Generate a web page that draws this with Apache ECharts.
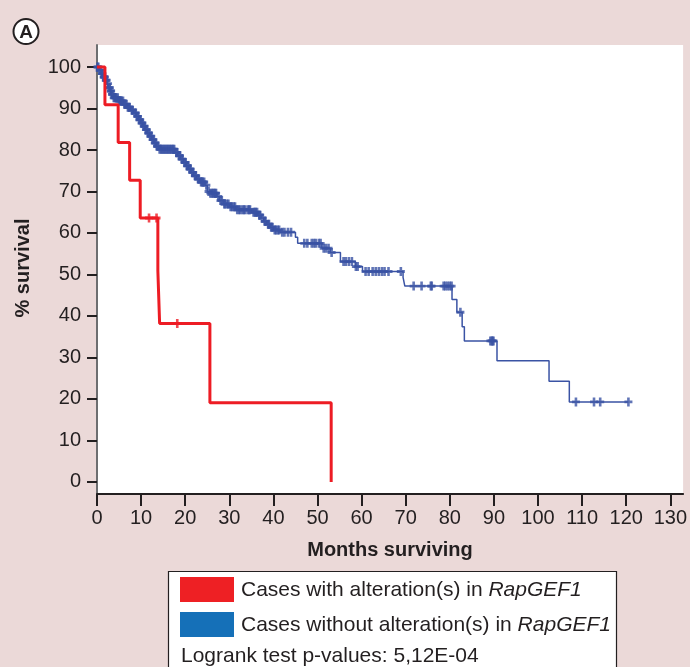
<!DOCTYPE html>
<html>
<head>
<meta charset="utf-8">
<script src="https://cdn.jsdelivr.net/npm/echarts@6/dist/echarts.min.js"></script>
<style>
html,body{margin:0;padding:0;background:#ebd9d8;}
#chart{width:690px;height:667px;}
</style>
</head>
<body>
<div id="chart"></div>
<script>
// ---- Data ----
const xTicks = [0,10,20,30,40,50,60,70,80,90,100,110,120,130];
const yTicks = [0,10,20,30,40,50,60,70,80,90,100];

// Cases with alteration(s): Kaplan-Meier steps (time in months, % survival after event)
const redTimes = [0,1.8,4.8,7.4,9.8,13.8,14.2,25.6,53.1];
const redSurv  = [100,90.9,81.8,72.7,63.6,50.9,38.2,19.1,0];
const redCensorTimes = [11.8,13.5,18.2];

// Cases without alteration(s)
const blueTimes = [0,0.5,1.0,1.4,1.9,2.3,2.7,3.0,3.3,3.6,4.8,6.0,6.9,7.6,8.3,8.9,9.4,9.9,10.4,10.9,11.4,11.9,12.4,12.9,13.4,14.0,17.6,18.3,18.9,19.6,20.2,20.7,21.3,21.9,22.6,23.3,24.5,25.0,25.5,27.2,27.7,28.6,30.0,31.5,35.0,36.5,37.2,37.8,38.5,39.2,40.0,41.5,45.0,45.5,51.0,52.9,55.2,58.6,60.2,69.4,69.8,80.5,81.6,82.8,83.3,90.7,102.5,107.1,120.5];
const blueSurv  = [100,99.2,98.4,97.6,96.8,96.0,95.0,94.2,93.4,92.6,91.8,91.0,90.3,89.6,88.9,88.1,87.3,86.5,85.7,84.9,84.1,83.3,82.5,81.7,80.9,80.2,79.4,78.6,77.8,77.0,76.2,75.4,74.6,73.8,73.0,72.3,71.5,70.0,69.6,68.8,67.8,67.0,66.3,65.6,65.0,64.3,63.6,62.8,62.1,61.4,60.7,60.2,59.0,57.5,56.3,55.3,53.1,51.9,50.7,49.3,47.2,44.0,40.9,37.4,34.0,29.2,24.3,19.3,19.3];
const blueCensorTimes = [0.1,0.3,0.6,0.8,1.1,1.2,1.5,1.6,1.8,2.0,2.2,2.5,2.8,2.9,3.1,3.2,3.4,3.5,3.8,4.0,4.2,4.4,4.7,5.0,5.2,5.4,5.6,5.9,6.2,6.4,6.7,7.0,7.2,7.4,7.9,8.1,8.6,8.8,9.1,9.3,9.6,9.8,10.1,10.3,10.6,10.8,11.1,11.3,11.6,11.8,12.1,12.3,12.6,12.8,13.1,13.3,13.6,13.8,14.2,14.5,14.8,15.0,15.3,15.5,15.8,16.0,16.3,16.5,16.8,17.0,17.3,17.5,18.0,18.2,18.6,18.8,19.2,19.4,19.9,20.1,20.4,20.6,21.0,21.2,21.6,21.8,22.2,22.4,22.9,23.1,23.6,23.8,24.0,24.3,24.8,25.3,25.7,26.0,26.3,26.5,26.8,27.0,27.5,28.0,28.3,28.9,29.0,29.5,29.8,30.3,30.6,31.0,31.3,31.8,32.2,32.5,33.0,33.3,33.6,34.2,34.5,34.7,35.5,35.8,36.0,36.3,36.8,37.0,37.5,38.0,38.2,38.8,39.0,39.5,39.8,40.3,40.6,41.0,41.3,42.0,42.5,43.3,44.0,
  47.0,47.7,48.7,49.2,49.6,50.3,50.7,51.4,51.9,52.5,53.2,55.9,56.4,57.1,57.8,58.7,59.1,
  60.9,61.6,62.5,63.2,63.9,64.6,65.2,66.1,68.9,71.8,73.6,75.7,75.9,78.6,79.0,79.5,80.0,80.4,
  82.4,89.2,89.5,89.7,89.9,108.6,112.7,114.1,120.5];

const legendLines = ['Cases with alteration(s) in ', 'Cases without alteration(s) in '];
const geneName = 'RapGEF1';
const pValueText = 'Logrank test p-values: 5,12E-04';

// ---- Helpers ----
function pairs(t, s){ return t.map((v,i)=>[v, s[i]]); }
function survAt(t, s, x){ let v = s[0]; for (let i=0;i<t.length;i++){ if (t[i] <= x) v = s[i]; } return v; }
function censorPts(t, s, c){ return c.map(x => [x, survAt(t, s, x)]); }

const FONT = '"Liberation Sans", Arial, Helvetica, sans-serif';
const TXT = '#231f20';
const RED = '#ed1c24';
const BLUE = '#3a53a4';
const PLUS = 'path://M-1.3,-4H1.3V-1.3H4V1.3H1.3V4H-1.3V1.3H-4V-1.3H-1.3Z';

const chart = echarts.init(document.getElementById('chart'), null, {renderer:'canvas'});
chart.setOption({
  backgroundColor: '#ebd9d8',
  animation: false,
  textStyle: {fontFamily: FONT},
  grid: {left: 97, top: 45, width: 588, height: 449, show: true, backgroundColor: '#ffffff', borderWidth: 0},
  xAxis: {
    type: 'value', min: 0, max: 132.9,
    axisLine: {show: true, onZero: false, lineStyle: {color: TXT, width: 2}},
    axisTick: {show: true, customValues: xTicks, length: 12, lineStyle: {color: TXT, width: 2}},
    axisLabel: {customValues: xTicks, color: TXT, fontSize: 20, fontFamily: FONT, margin: 14},
    splitLine: {show: false}
  },
  yAxis: {
    type: 'value', min: -2.9, max: 105.3,
    axisLine: {show: true, onZero: false, lineStyle: {color: '#6d6e70', width: 2}},
    axisTick: {show: true, customValues: yTicks, length: 10, lineStyle: {color: TXT, width: 2}},
    axisLabel: {customValues: yTicks, color: TXT, fontSize: 20, fontFamily: FONT, margin: 16},
    splitLine: {show: false}
  },
  series: [
    {type: 'line', step: 'end', data: pairs(blueTimes, blueSurv), showSymbol: false,
     lineStyle: {color: BLUE, width: 1.5}, z: 2},
    {type: 'scatter', data: censorPts(blueTimes, blueSurv, blueCensorTimes), symbol: PLUS, symbolSize: [8, 9],
     itemStyle: {color: BLUE}, z: 3},
    {type: 'line', step: 'end', data: pairs(redTimes, redSurv), showSymbol: false,
     lineStyle: {color: RED, width: 3}, z: 4},
    {type: 'scatter', data: censorPts(redTimes, redSurv, redCensorTimes), symbol: PLUS, symbolSize: [8, 9],
     itemStyle: {color: RED}, z: 5}
  ],
  graphic: [
    {type: 'circle', shape: {cx: 26, cy: 31.5, r: 12.5}, style: {fill: '#fff', stroke: TXT, lineWidth: 2}},
    {type: 'text', x: 26, y: 32.5, style: {text: 'A', fill: TXT, font: 'bold 19px ' + FONT, align: 'center', verticalAlign: 'middle'}},
    {type: 'text', x: 23, y: 268, rotation: Math.PI/2,
     style: {text: '% survival', fill: TXT, font: 'bold 20px ' + FONT, align: 'center', verticalAlign: 'middle'}},
    {type: 'text', x: 390, y: 550,
     style: {text: 'Months surviving', fill: TXT, font: 'bold 20px ' + FONT, align: 'center', verticalAlign: 'middle'}},
    {type: 'rect', shape: {x: 168.5, y: 571.5, width: 448, height: 110}, style: {fill: '#fff', stroke: TXT, lineWidth: 1.2}},
    {type: 'rect', shape: {x: 180, y: 577, width: 54, height: 25}, style: {fill: '#ee2024'}},
    {type: 'rect', shape: {x: 180, y: 612, width: 54, height: 25}, style: {fill: '#1570b8'}},
    {type: 'text', x: 241, y: 590, style: {
      text: '{n|' + legendLines[0] + '}{i|' + geneName + '}', verticalAlign: 'middle', align: 'left',
      rich: {n: {fontSize: 21, fontFamily: FONT, fill: TXT}, i: {fontSize: 21, fontFamily: FONT, fontStyle: 'italic', fill: TXT}}}},
    {type: 'text', x: 241, y: 625, style: {
      text: '{n|' + legendLines[1] + '}{i|' + geneName + '}', verticalAlign: 'middle', align: 'left',
      rich: {n: {fontSize: 21, fontFamily: FONT, fill: TXT}, i: {fontSize: 21, fontFamily: FONT, fontStyle: 'italic', fill: TXT}}}},
    {type: 'text', x: 181, y: 656, style: {text: pValueText, fill: TXT, font: '21px ' + FONT, align: 'left', verticalAlign: 'middle'}}
  ]
});
</script>
</body>
</html>
